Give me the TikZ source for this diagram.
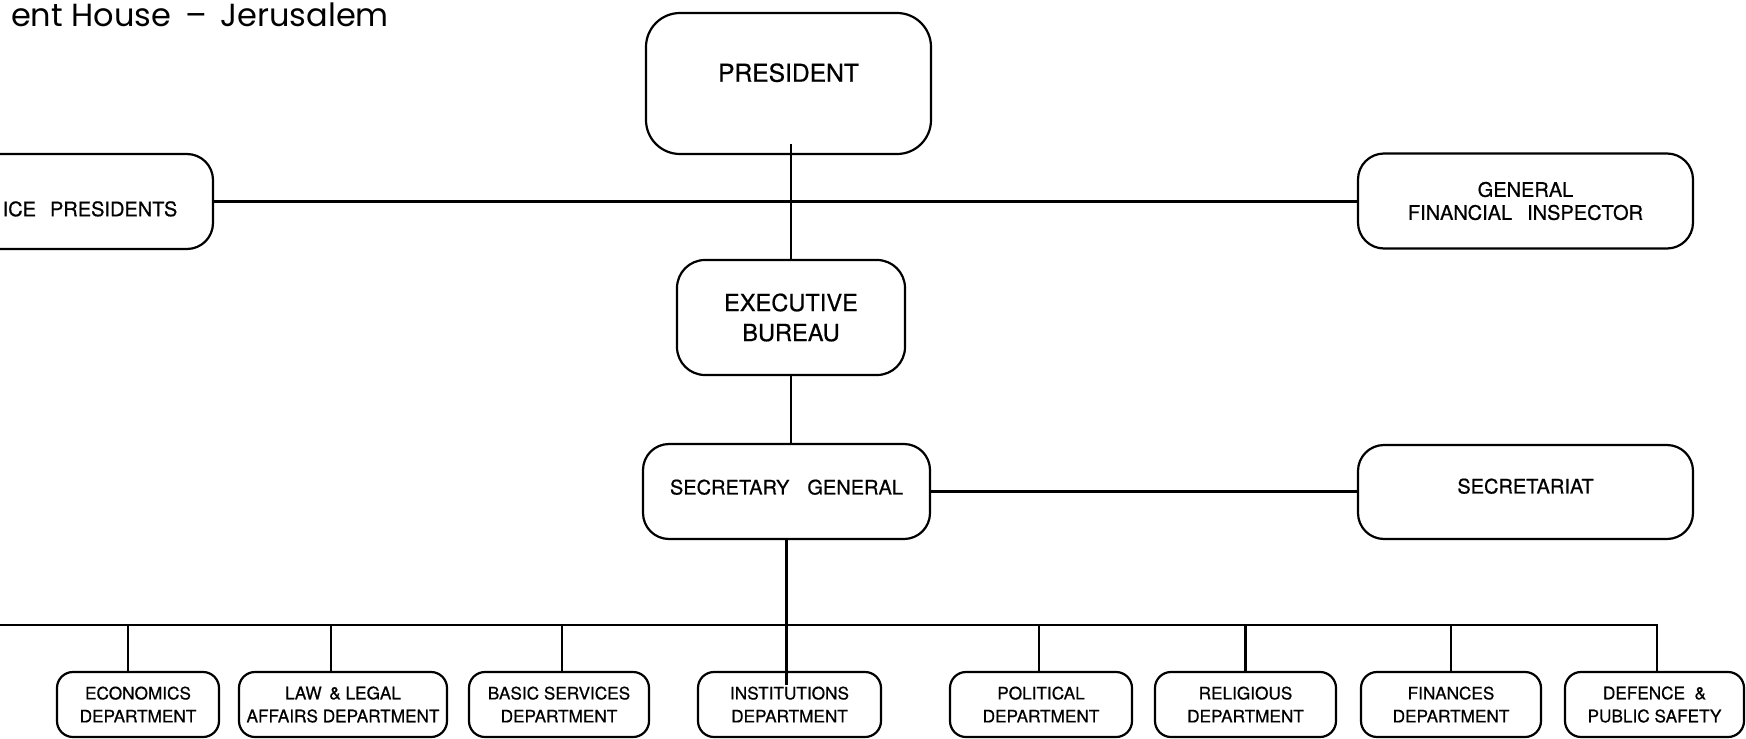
\documentclass[tikz,border=0pt]{standalone}
\usepackage{fontspec}
\setmainfont{TeX Gyre Heros}[UprightFeatures={FakeBold=0.6}]
\newfontfamily\titlefont{Poppins}
\usetikzlibrary{calc}
\begin{document}
\begin{tikzpicture}[x=0.5pt,y=-0.5pt,line width=1.1pt,
  orgbox/.style={draw,black,align=center,inner sep=0pt},
  topbox/.style={orgbox,rounded corners=13pt,font=\fontsize{10}{11.5}\selectfont},
  deptbox/.style={orgbox,rounded corners=8pt,minimum height=32.5pt,font=\fontsize{8.6}{11.5}\selectfont},
  link/.style={draw,black,line width=1.1pt}]
\useasboundingbox (0,0) rectangle (1746,739);
\clip (0,0) rectangle (1746,739);

% title
\node[anchor=base west,inner sep=0pt,font=\titlefont\fontsize{16}{19}\selectfont] (title) at (10,26) {ent House \,–\, Jerusalem};

% upper boxes
\node[orgbox,rounded corners=17pt,minimum width=142.5pt,minimum height=70.5pt,font=\fontsize{12.3}{15}\selectfont,text depth=11pt] (pres) at (788.5,83.5) {PRESIDENT};
\node[topbox,minimum width=123pt,minimum height=47.5pt,text height=14.7pt,text depth=0pt] (vp) at (90,201.5) {ICE\hspace{0.7em}PRESIDENTS};
\node[topbox,minimum width=167.5pt,minimum height=47.5pt] (gfi) at (1525.5,201) {GENERAL\\FINANCIAL\hspace{0.75em}INSPECTOR};
\node[orgbox,rounded corners=14pt,minimum width=114pt,minimum height=57.5pt,font=\fontsize{11.8}{15}\selectfont] (exec) at (791,317.5) {EXECUTIVE\\BUREAU};
\node[topbox,minimum width=143.5pt,minimum height=47.5pt,text depth=4.5pt] (secgen) at (786.5,491.5) {SECRETARY\hspace{0.9em}GENERAL};
\node[topbox,minimum width=167.5pt,minimum height=47pt,text depth=6pt] (secr) at (1525.5,492) {SECRETARIAT};

% departments
\node[deptbox,minimum width=81pt] (econ) at (138,704.5) {ECONOMICS\\DEPARTMENT};
\node[deptbox,minimum width=104pt] (law) at (343,704.5) {LAW \,\& LEGAL\\AFFAIRS DEPARTMENT};
\node[deptbox,minimum width=90pt] (basic) at (559,704.5) {BASIC SERVICES\\DEPARTMENT};
\node[deptbox,minimum width=91.5pt] (inst) at (789.5,704.5) {INSTITUTIONS\\DEPARTMENT};
\node[deptbox,minimum width=91pt] (pol) at (1041,704.5) {POLITICAL\\DEPARTMENT};
\node[deptbox,minimum width=90.5pt] (rel) at (1245.5,704.5) {RELIGIOUS\\DEPARTMENT};
\node[deptbox,minimum width=90pt] (fin) at (1451,704.5) {FINANCES\\DEPARTMENT};
\node[deptbox,minimum width=89.5pt] (def) at (1654.5,704.5) {DEFENCE \ \&\\PUBLIC SAFETY};

% connectors
\coordinate (pv) at ($(exec.north |- pres.south)+(0,-11)$);
\draw[link] (pv) -- (exec.north);
\draw[link] (vp.east) -- (vp.east -| gfi.west);
\draw[link] (exec.south) -- (exec.south |- secgen.north);
\draw[link] (secgen.east) -- (secgen.east -| secr.west);
\coordinate (sgend) at ($(secgen.south |- inst.north)+(0,14)$);
\draw[link] (secgen.south) -- (sgend);

\coordinate (busL) at (-5,625);
\coordinate (d1) at ($(econ.north)+(-10,0)$);
\coordinate (d2) at ($(law.north)+(-12,0)$);
\coordinate (d3) at ($(basic.north)+(3,0)$);
\coordinate (d5) at ($(pol.north)+(-2,0)$);
\coordinate (d6) at (rel.north);
\coordinate (d7) at (fin.north);
\coordinate (d8) at ($(def.north)+(2.5,0)$);
\draw[link] (busL) -| (d8);
\foreach \d in {d1,d2,d3,d5,d6,d7}
  \draw[link] (\d) -- (\d |- busL);
\end{tikzpicture}
\end{document}
